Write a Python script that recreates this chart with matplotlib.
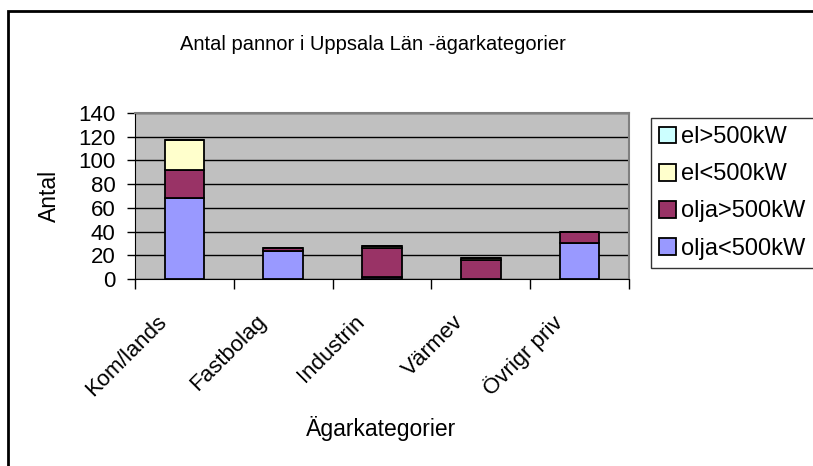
import numpy as np
import matplotlib.pyplot as plt
import matplotlib.transforms as mtransforms
from matplotlib.patches import Rectangle

plt.rcParams['font.family'] = ['Liberation Sans', 'DejaVu Sans']

categories = ['Kom/lands', 'Fastbolag', 'Industrin', 'Värmev', 'Övrigr priv']
olja_small = [68, 24, 2, 0, 30]
olja_big = [24, 2, 24, 16, 10]
el_small = [25, 0, 2, 2, 0]
el_big = [0, 0, 0, 0, 0]

series = ['olja<500kW', 'olja>500kW', 'el<500kW', 'el>500kW']
colors = ['#9999FF', '#993366', '#FFFFCC', '#CCFFFF']
values = [olja_small, olja_big, el_small, el_big]

fig = plt.figure(figsize=(8.13, 4.66), dpi=100)
ax = fig.add_axes([135/813, 1 - 279/466, (629 - 135)/813, (279 - 113)/466])
ax.set_facecolor('#C0C0C0')

x = np.arange(len(categories))
bottom = np.zeros(len(categories))
handles = []
for name, col, vals in zip(series, colors, values):
    vals = np.array(vals, dtype=float)
    b = ax.bar(x, vals, 0.4, bottom=bottom, color=col, edgecolor='black',
               linewidth=1.3, label=name, zorder=3)
    handles.append(b)
    bottom += vals

ax.set_xlim(-0.5, len(categories) - 0.5)
ax.set_ylim(0, 140)
ax.set_yticks(range(0, 141, 20))
ax.tick_params(axis='y', labelsize=16, length=6, width=1, pad=8)
ax.set_xticks(np.arange(-0.5, len(categories), 1.0), minor=False)
ax.set_xticklabels([])
ax.set_xticks(x, minor=True)
ax.set_xticklabels(categories, minor=True, rotation=45, ha='right',
                   rotation_mode='anchor', fontsize=16)
ax.tick_params(axis='x', which='major', length=7, width=1)
ax.tick_params(axis='x', which='minor', length=0, pad=23)
shift = mtransforms.ScaledTranslation(-28/100, 0, fig.dpi_scale_trans)
for lab in ax.get_xticklabels(minor=True):
    lab.set_transform(lab.get_transform() + shift)

ax.grid(axis='y', color='black', linewidth=1, zorder=1)
ax.set_axisbelow(True)
ax.spines['top'].set_color('#808080')
ax.spines['right'].set_color('#808080')
ax.spines['top'].set_linewidth(1.5)
ax.spines['right'].set_linewidth(1.5)

ax.set_ylabel('Antal', fontsize=16.5)
ax.yaxis.set_label_coords((61 - 135)/494, 0.5)
ax.set_xlabel('Ägarkategorier', fontsize=16.5)
ax.xaxis.set_label_coords(0.498, (279 - 416)/166)
fig.text(373/813, 1 - 45/466, 'Antal pannor i Uppsala Län -ägarkategorier',
         ha='center', va='center', fontsize=14.5)

leg = fig.legend(handles[::-1], series[::-1], loc='upper left',
                 bbox_to_anchor=(651/813, 1 - 118/466), fontsize=17,
                 frameon=True, fancybox=False, edgecolor='black',
                 handlelength=0.72, handleheight=0.72, handletextpad=0.2,
                 labelspacing=0.64, borderpad=0.35, borderaxespad=0)
leg.get_frame().set_linewidth(1)

fig.patches.append(Rectangle((8/813, -0.1), 1.0, 1 - 11/466 + 0.1,
                             transform=fig.transFigure, fill=False,
                             edgecolor='black', linewidth=2))

plt.savefig('out.png', dpi=100)
